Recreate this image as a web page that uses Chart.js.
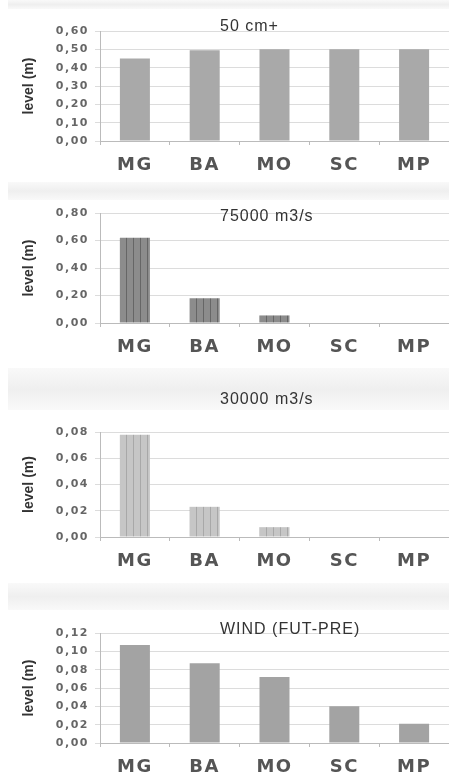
<html>
<head>
  <title>level (m)</title>
  <script src="https://cdn.jsdelivr.net/npm/chart.js"></script>
  <style>
    body { margin: 0; background: white; width: 449px; height: 778px; position: relative; overflow: hidden; }
    .banda { position: absolute; left: 8px; right: 0; background: linear-gradient(#f9f9f9, #efefef 50%, #f9f9f9); }
    .pannello { position: absolute; left: 0; width: 449px; }
  </style>
</head>
<body>
  <div class="banda" style="top:0; height:9px"></div>
  <div class="banda" style="top:182px; height:18px"></div>
  <div class="banda" style="top:368px; height:42px"></div>
  <div class="banda" style="top:583px; height:27px"></div>

  <div class="pannello" style="top:0; height:182px"><canvas id="g1"></canvas></div>
  <div class="pannello" style="top:182px; height:183px"><canvas id="g2"></canvas></div>
  <div class="pannello" style="top:365px; height:218px"><canvas id="g3"></canvas></div>
  <div class="pannello" style="top:583px; height:195px"><canvas id="g4"></canvas></div>

  <script>
    // stazioni
    var stazioni = ["MG", "BA", "MO", "SC", "MP"];

    // livelli (m) per scenario
    var titoli = ["50 cm+", "75000 m3/s", "30000 m3/s", "WIND (FUT-PRE)"];
    var livelli50cm = [0.45, 0.495, 0.50, 0.50, 0.50];
    var livelli75000 = [0.62, 0.18, 0.055, 0, 0];
    var livelli30000 = [0.078, 0.023, 0.0075, 0, 0];
    var livelliVento = [0.107, 0.087, 0.072, 0.040, 0.021];

    // assi y: massimo e passo
    var assiMax = [0.60, 0.80, 0.08, 0.12];
    var assiPasso = [0.10, 0.20, 0.02, 0.02];
    var titoloAsse = "level (m)";

    //crea un riempimento a righe verticali per le barre
    function righe(fondo, riga) {
      var c = document.createElement("canvas");
      c.width = 7; c.height = 4;
      var ctx = c.getContext("2d");
      ctx.fillStyle = fondo;
      ctx.fillRect(0, 0, 7, 4);
      ctx.fillStyle = riga;
      ctx.fillRect(0, 0, 1, 4);
      return ctx.createPattern(c, "repeat");
    }

    //plugin: testo largo per le etichette degli assi, poi titolo del pannello e titolo asse y
    var titoloPannello = {
      id: "titoloPannello",
      beforeDraw: function (chart) {
        chart.ctx.letterSpacing = "1.5px"; //le etichette dell'originale sono molto larghe
      },
      beforeDatasetsDraw: function (chart) {
        chart.ctx.letterSpacing = "0px";
      },
      afterDraw: function (chart, args, opts) {
        var ctx = chart.ctx;
        var area = chart.chartArea;
        ctx.save();
        //titolo del grafico
        ctx.letterSpacing = "1px";
        ctx.font = "16px 'Liberation Sans', Arial, sans-serif";
        ctx.fillStyle = "#333";
        ctx.textAlign = "left";
        ctx.textBaseline = "middle";
        ctx.fillText(opts.testo, 220, opts.y);
        //titolo asse y, ruotato
        ctx.letterSpacing = "0px";
        ctx.translate(29, (area.top + area.bottom) / 2);
        ctx.rotate(-Math.PI / 2);
        ctx.textAlign = "center";
        ctx.font = "bold 14px 'Liberation Sans', Arial, sans-serif";
        ctx.fillStyle = "#333";
        ctx.fillText(titoloAsse, 0, 0);
        ctx.restore();
      }
    };

    function creaGrafico(id, valori, colore, indice, cfg) {
      var altezza = document.getElementById(id).parentNode.clientHeight;
      return new Chart(document.getElementById(id), {
        type: "bar",
        data: {
          labels: stazioni,
          datasets: [{
            data: valori,
            backgroundColor: colore,
            borderWidth: 0,
            barPercentage: 0.43,
            categoryPercentage: 1
          }]
        },
        plugins: [titoloPannello],
        options: {
          responsive: true,
          maintainAspectRatio: false,
          animation: false,
          layout: { padding: { top: cfg.alto, right: 0, left: 0, bottom: 0 } },
          plugins: {
            legend: { display: false },
            tooltip: { enabled: false },
            titoloPannello: { testo: titoli[indice], y: cfg.titoloY }
          },
          scales: {
            x: {
              grid: { display: true, offset: true, drawOnChartArea: false, tickLength: 4, color: "#bbb" },
              border: { color: "#bbb" },
              ticks: { padding: 10, color: "#555", font: { family: "'DejaVu Sans', sans-serif", size: 18, weight: "bold" } },
              afterFit: function (s) { s.height = altezza - cfg.basso; }
            },
            y: {
              min: 0,
              max: assiMax[indice],
              ticks: {
                stepSize: assiPasso[indice],
                padding: 6,
                color: "#666",
                font: { family: "'DejaVu Sans', sans-serif", size: 11, weight: "bold" },
                callback: function (v) { return v.toFixed(2).replace(".", ","); }
              },
              grid: { color: "#dcdcdc", tickLength: 5 },
              border: { color: "#bbb" },
              afterFit: function (s) { s.width = 100; }
            }
          }
        }
      });
    }

    creaGrafico("g1", livelli50cm, "#a9a9a9", 0, { alto: 31, basso: 141, titoloY: 27 });
    creaGrafico("g2", livelli75000, righe("#8c8c8c", "#666"), 1, { alto: 31, basso: 141, titoloY: 35 });
    creaGrafico("g3", livelli30000, righe("#c6c6c6", "#a8a8a8"), 2, { alto: 67, basso: 172, titoloY: 35 });
    creaGrafico("g4", livelliVento, "#a3a3a3", 3, { alto: 50, basso: 160, titoloY: 47 });
  </script>
</body>
</html>
